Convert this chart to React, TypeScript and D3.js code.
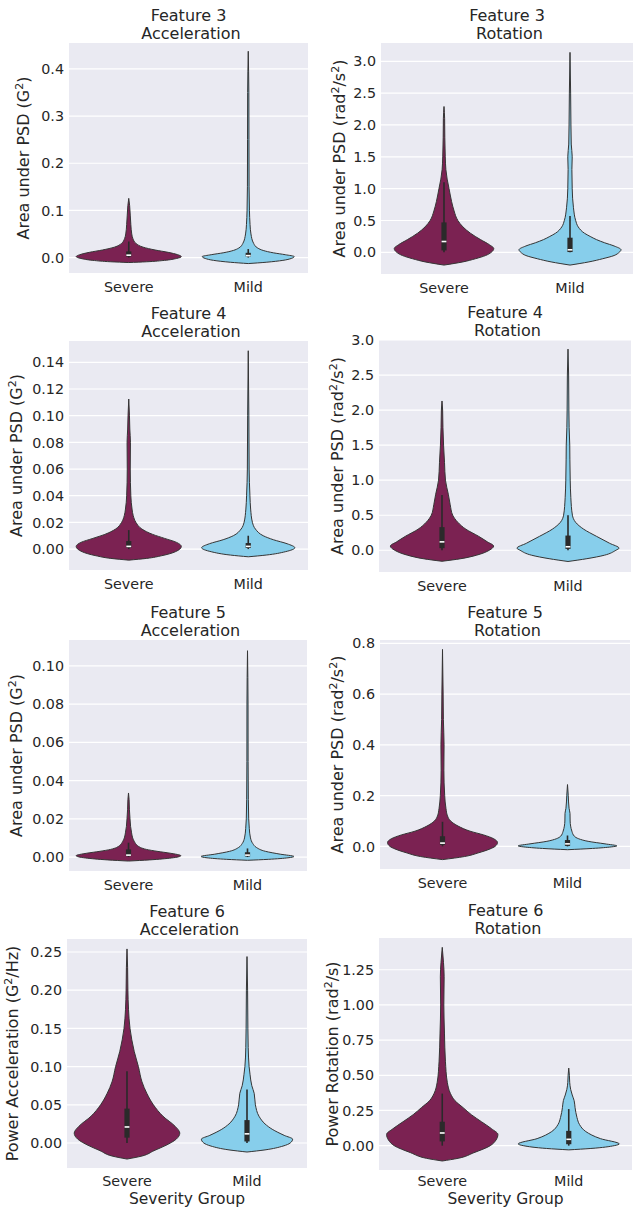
import React from "react";
import * as d3 from "d3";

const CATEGORIES = ["Severe", "Mild"];
const COLORS = ["#7b2252", "#87ceeb"];
const X_LABEL = "Severity Group";

const TITLES = [
  ["Feature 3", "Acceleration"],
  ["Feature 3", "Rotation"],
  ["Feature 4", "Acceleration"],
  ["Feature 4", "Rotation"],
  ["Feature 5", "Acceleration"],
  ["Feature 5", "Rotation"],
  ["Feature 6", "Acceleration"],
  ["Feature 6", "Rotation"],
];

// [text, superscript?]
const accLabel: [string, boolean][] = [["Area under PSD (G", false], ["2", true], [")", false]];
const rotLabel: [string, boolean][] = [["Area under PSD (rad", false], ["2", true], ["/s", false], ["2", true], [")", false]];
const powAccLabel: [string, boolean][] = [["Power Acceleration (G", false], ["2", true], ["/Hz)", false]];
const powRotLabel: [string, boolean][] = [["Power Rotation (rad", false], ["2", true], ["/s)", false]];
const Y_LABELS = [accLabel, rotLabel, accLabel, rotLabel, accLabel, rotLabel, powAccLabel, powRotLabel];

const Y_DOMAINS = [
  [-0.0328, 0.455],
  [-0.34, 3.287],
  [-0.0157, 0.156],
  [-0.31, 3.0],
  [-0.0073, 0.1135],
  [-0.089, 0.813],
  [-0.0327, 0.267],
  [-0.173, 1.4755],
];

const Y_TICKS = [
  [0, 0.1, 0.2, 0.3, 0.4],
  [0, 0.5, 1, 1.5, 2, 2.5, 3],
  [0, 0.02, 0.04, 0.06, 0.08, 0.1, 0.12, 0.14],
  [0, 0.5, 1, 1.5, 2, 2.5, 3],
  [0, 0.02, 0.04, 0.06, 0.08, 0.1],
  [0, 0.2, 0.4, 0.6, 0.8],
  [0, 0.05, 0.1, 0.15, 0.2, 0.25],
  [0, 0.25, 0.5, 0.75, 1, 1.25],
];
const TICK_FORMATS = [".1f", ".1f", ".2f", ".1f", ".2f", ".1f", ".2f", ".2f"];

// violin outlines: [value, full width in category units]
const f3AccSevere = [[-0.0106, 0], [-0.009, 0.3], [-0.006, 0.6], [-0.002, 0.8], [0.002, 0.88], [0.006, 0.82], [0.011, 0.66], [0.016, 0.44], [0.022, 0.24], [0.03, 0.12], [0.04, 0.07], [0.05, 0.05], [0.07, 0.035], [0.09, 0.025], [0.11, 0.015], [0.1255, 0]];
const f3AccMild = [[-0.0128, 0], [-0.01, 0.3], [-0.006, 0.58], [-0.002, 0.72], [0.002, 0.77], [0.006, 0.62], [0.01, 0.42], [0.015, 0.25], [0.02, 0.16], [0.03, 0.09], [0.05, 0.045], [0.07, 0.03], [0.1, 0.02], [0.15, 0.014], [0.25, 0.012], [0.35, 0.01], [0.4375, 0]];
const f3RotSevere = [[-0.2, 0], [-0.15, 0.3], [-0.1, 0.5], [-0.05, 0.66], [0.0, 0.75], [0.06, 0.79], [0.12, 0.72], [0.2, 0.58], [0.3, 0.42], [0.4, 0.3], [0.5, 0.22], [0.65, 0.16], [0.8, 0.12], [1.0, 0.08], [1.15, 0.05], [1.3, 0.03], [1.5, 0.02], [1.8, 0.013], [2.1, 0.01], [2.29, 0]];
const f3RotMild = [[-0.2, 0], [-0.15, 0.3], [-0.1, 0.52], [-0.05, 0.7], [0.0, 0.78], [0.04, 0.81], [0.1, 0.7], [0.15, 0.55], [0.2, 0.42], [0.25, 0.32], [0.3, 0.23], [0.4, 0.13], [0.5, 0.09], [0.7, 0.055], [1.0, 0.035], [1.3, 0.03], [1.5, 0.035], [1.7, 0.02], [2.0, 0.015], [2.5, 0.01], [3.14, 0]];
const f4AccSevere = [[-0.0083, 0], [-0.007, 0.3], [-0.005, 0.55], [-0.002, 0.78], [0.002, 0.88], [0.005, 0.8], [0.008, 0.6], [0.011, 0.4], [0.015, 0.22], [0.02, 0.12], [0.025, 0.075], [0.03, 0.055], [0.04, 0.035], [0.06, 0.025], [0.08, 0.028], [0.09, 0.018], [0.1, 0.012], [0.1125, 0]];
const f4AccMild = [[-0.0058, 0], [-0.0045, 0.3], [-0.002, 0.62], [0.001, 0.78], [0.004, 0.65], [0.007, 0.42], [0.01, 0.25], [0.015, 0.12], [0.02, 0.07], [0.03, 0.04], [0.04, 0.028], [0.06, 0.015], [0.1, 0.01], [0.1487, 0]];
const f4RotSevere = [[-0.157, 0], [-0.12, 0.3], [-0.07, 0.55], [0.0, 0.75], [0.06, 0.82], [0.12, 0.72], [0.2, 0.58], [0.3, 0.38], [0.4, 0.25], [0.5, 0.17], [0.65, 0.13], [0.8, 0.1], [1.0, 0.055], [1.25, 0.04], [1.5, 0.025], [1.75, 0.015], [2.0, 0.01], [2.13, 0]];
const f4RotMild = [[-0.16, 0], [-0.12, 0.3], [-0.07, 0.58], [0.0, 0.76], [0.03, 0.81], [0.1, 0.66], [0.2, 0.45], [0.3, 0.25], [0.4, 0.12], [0.5, 0.07], [0.75, 0.045], [1.0, 0.035], [1.3, 0.03], [1.5, 0.028], [1.75, 0.018], [2.0, 0.014], [2.5, 0.01], [2.87, 0]];
const f5AccSevere = [[-0.0021, 0], [-0.0015, 0.35], [-0.0005, 0.72], [0.0007, 0.88], [0.002, 0.7], [0.003, 0.48], [0.004, 0.3], [0.005, 0.2], [0.006, 0.15], [0.008, 0.1], [0.01, 0.07], [0.013, 0.05], [0.016, 0.035], [0.02, 0.025], [0.025, 0.015], [0.03, 0.01], [0.0335, 0]];
const f5AccMild = [[-0.0017, 0], [-0.0012, 0.35], [-0.0004, 0.68], [0.0003, 0.78], [0.0015, 0.55], [0.003, 0.3], [0.005, 0.15], [0.007, 0.09], [0.01, 0.05], [0.015, 0.03], [0.02, 0.02], [0.03, 0.014], [0.05, 0.01], [0.08, 0.009], [0.1079, 0]];
const f5RotSevere = [[-0.052, 0], [-0.04, 0.35], [-0.025, 0.58], [-0.01, 0.76], [0.0, 0.84], [0.015, 0.88], [0.03, 0.82], [0.045, 0.66], [0.06, 0.44], [0.08, 0.25], [0.1, 0.13], [0.12, 0.08], [0.15, 0.055], [0.2, 0.035], [0.3, 0.022], [0.4, 0.025], [0.5, 0.014], [0.6, 0.01], [0.776, 0]];
const f5RotMild = [[-0.013, 0], [-0.008, 0.4], [-0.002, 0.7], [0.002, 0.79], [0.01, 0.6], [0.02, 0.33], [0.03, 0.18], [0.04, 0.11], [0.06, 0.07], [0.08, 0.05], [0.1, 0.042], [0.13, 0.04], [0.15, 0.025], [0.2, 0.012], [0.2436, 0]];
const f6AccSevere = [[-0.021, 0], [-0.017, 0.25], [-0.01, 0.45], [-0.003, 0.65], [0.005, 0.82], [0.013, 0.88], [0.022, 0.8], [0.035, 0.6], [0.05, 0.44], [0.065, 0.33], [0.08, 0.25], [0.1, 0.19], [0.12, 0.12], [0.135, 0.08], [0.15, 0.05], [0.175, 0.025], [0.2, 0.015], [0.23, 0.01], [0.254, 0]];
const f6AccMild = [[-0.0118, 0], [-0.009, 0.3], [-0.004, 0.6], [0.0, 0.72], [0.005, 0.76], [0.01, 0.62], [0.018, 0.42], [0.025, 0.3], [0.035, 0.2], [0.05, 0.14], [0.065, 0.12], [0.075, 0.08], [0.09, 0.05], [0.1, 0.035], [0.125, 0.02], [0.15, 0.015], [0.2, 0.01], [0.244, 0]];
const f6RotSevere = [[-0.109, 0], [-0.09, 0.25], [-0.05, 0.5], [0.0, 0.76], [0.04, 0.85], [0.08, 0.88], [0.12, 0.78], [0.17, 0.62], [0.22, 0.46], [0.27, 0.33], [0.32, 0.2], [0.37, 0.13], [0.45, 0.08], [0.6, 0.05], [0.8, 0.035], [1.0, 0.025], [1.2, 0.03], [1.3, 0.02], [1.409, 0]];
const f6RotMild = [[-0.03, 0], [-0.02, 0.35], [0.0, 0.72], [0.012, 0.8], [0.05, 0.5], [0.1, 0.27], [0.15, 0.17], [0.2, 0.13], [0.27, 0.1], [0.32, 0.085], [0.36, 0.055], [0.4, 0.03], [0.45, 0.015], [0.5, 0.01], [0.551, 0]];

const VIOLINS = [
  [f3AccSevere, f3AccMild],
  [f3RotSevere, f3RotMild],
  [f4AccSevere, f4AccMild],
  [f4RotSevere, f4RotMild],
  [f5AccSevere, f5AccMild],
  [f5RotSevere, f5RotMild],
  [f6AccSevere, f6AccMild],
  [f6RotSevere, f6RotMild],
];

// inner box: [whisker low, q1, median, q3, whisker high]
const BOXES = [
  [[0, 0.002, 0.005, 0.013, 0.034], [0, 0.002, 0.004, 0.01, 0.018]],
  [[0, 0.03, 0.17, 0.47, 1.1], [0, 0.005, 0.04, 0.23, 0.57]],
  [[0, 0.001, 0.002, 0.006, 0.0142], [0, 0.0008, 0.002, 0.0045, 0.01]],
  [[0, 0.03, 0.12, 0.33, 0.79], [0, 0.02, 0.05, 0.21, 0.5]],
  [[0, 0.0005, 0.001, 0.004, 0.0075], [0, 0.0003, 0.001, 0.0025, 0.0045]],
  [[0, 0.006, 0.013, 0.04, 0.097], [0, 0.002, 0.01, 0.025, 0.043]],
  [[0, 0.007, 0.021, 0.045, 0.094], [0, 0.002, 0.012, 0.03, 0.07]],
  [[0, 0.03, 0.09, 0.17, 0.37], [0, 0.01, 0.045, 0.105, 0.26]],
];

// plot area of each subplot: left, right, top, bottom, y-label x
const LAYOUT = [
  [69, 308, 43, 273, 29],
  [381, 633, 43, 274, 345],
  [69, 308, 341, 570, 22],
  [379, 631, 340, 572, 343],
  [69, 307, 640, 871, 22],
  [380, 630, 640, 869, 343],
  [67, 307, 939, 1168, 18],
  [379, 632, 938, 1170, 338],
];

const FONT = "DejaVu Sans, Liberation Sans, sans-serif";
const TEXT = "#262626";

function Panel({ i }: { i: number }) {
  const [left, right, top, bottom, labelX] = LAYOUT[i];
  const y = d3.scaleLinear().domain(Y_DOMAINS[i]).range([bottom, top]);
  const x = d3.scaleLinear().domain([-0.5, 1.5]).range([left, right]);
  const unit = x(1) - x(0);
  const fmt = d3.format(TICK_FORMATS[i]);
  const midY = (top + bottom) / 2;
  const midX = (left + right) / 2;
  const isBottom = i >= 6;
  const catY = isBottom ? 1186 : bottom + 19;

  return (
    <g>
      <rect x={left} y={top} width={right - left} height={bottom - top} fill="#eaeaf2" />
      {Y_TICKS[i].map((t) => (
        <g key={t}>
          <line x1={left} x2={right} y1={y(t)} y2={y(t)} stroke="#fff" strokeWidth={1.2} />
          <text x={left - 5} y={y(t)} dy="0.36em" textAnchor="end" fontSize={14.3} fill={TEXT}>
            {fmt(t)}
          </text>
        </g>
      ))}
      {VIOLINS[i].map((prof, k) => {
        const cx = x(k);
        const area = d3
          .area<number[]>()
          .y((d) => y(d[0]))
          .x0((d) => cx - (d[1] * unit) / 2)
          .x1((d) => cx + (d[1] * unit) / 2)
          .curve(d3.curveMonotoneY);
        const [wLo, q1, med, q3, wHi] = BOXES[i][k];
        return (
          <g key={k}>
            <path d={area(prof as number[][]) || ""} fill={COLORS[k]} stroke="#353535" strokeWidth={1} />
            <line x1={cx} x2={cx} y1={y(wLo)} y2={y(wHi)} stroke="#2a2a2a" strokeWidth={1.6} />
            <rect x={cx - 2.6} y={y(q3)} width={5.2} height={Math.max(0, y(q1) - y(q3))} fill="#2a2a2a" />
            <line x1={cx - 2.4} x2={cx + 2.4} y1={y(med)} y2={y(med)} stroke="#fff" strokeWidth={1.6} />
          </g>
        );
      })}
      {CATEGORIES.map((c, k) => (
        <text key={c} x={x(k)} y={catY} textAnchor="middle" fontSize={14.3} fill={TEXT}>
          {c}
        </text>
      ))}
      <text x={midX} y={top - 22.5} textAnchor="middle" fontSize={16} fill={TEXT}>
        {TITLES[i][0]}
      </text>
      <text x={midX + 2.5} y={top - 4} textAnchor="middle" fontSize={16} fill={TEXT}>
        {TITLES[i][1]}
      </text>
      <text transform={`translate(${labelX},${midY}) rotate(-90)`} textAnchor="middle" dy="0.36em" fontSize={16} fill={TEXT}>
        {Y_LABELS[i].map(([s, sup], j) => {
          const prevSup = j > 0 && Y_LABELS[i][j - 1][1];
          return (
            <tspan key={j} fontSize={sup ? 11 : 16} dy={sup ? -6.5 : prevSup ? 6.5 : 0}>
              {s}
            </tspan>
          );
        })}
      </text>
      {isBottom && (
        <text x={midX} y={1204} textAnchor="middle" fontSize={15.5} fill={TEXT}>
          {X_LABEL}
        </text>
      )}
    </g>
  );
}

export default function App() {
  return (
    <svg
      width={638}
      height={1207}
      style={{ position: "absolute", left: 0, top: 0, background: "#fff" }}
      fontFamily={FONT}
    >
      <rect width={638} height={1207} fill="#fff" />
      {LAYOUT.map((_, i) => (
        <Panel key={i} i={i} />
      ))}
    </svg>
  );
}
